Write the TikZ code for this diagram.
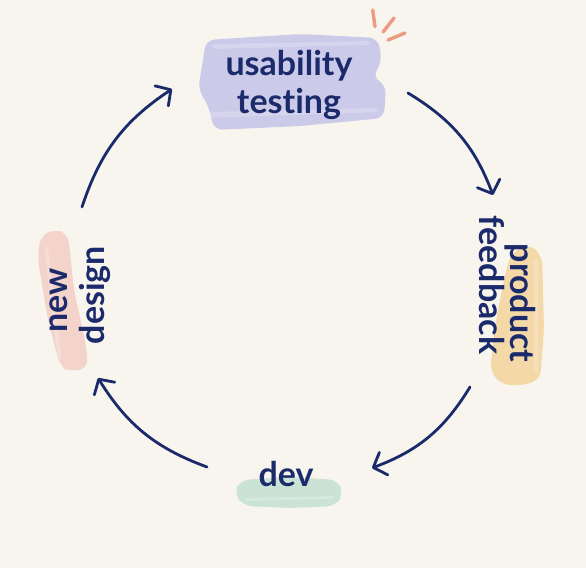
\documentclass[tikz,border=0pt]{standalone}
\usepackage{fontspec}
\setmainfont{Lato}[Ligatures={NoCommon}]
\usetikzlibrary{arrows.meta}
\definecolor{bg}{HTML}{F8F4EE}
\definecolor{ink}{HTML}{1B2A6B}
\definecolor{lav}{HTML}{CBCAE9}
\definecolor{ora}{HTML}{F4D8A8}
\definecolor{pnk}{HTML}{F3D3CA}
\definecolor{grn}{HTML}{CAE3D5}
\definecolor{tick}{HTML}{EE9A82}
\begin{document}
\begin{tikzpicture}[x=1pt,y=-1pt,
  lbl/.style={text=ink, inner sep=0pt, font=\fontsize{34}{38}\selectfont\bfseries},
  brush/.style={rounded corners=9pt},
  streak/.style={fill=white, opacity=0.22, rounded corners=3pt},
  cyc/.style={draw=ink, line width=2.8pt, line cap=round,
    -{Straight Barb[length=11pt,width=24pt,line cap=round,line join=round]}, bend left=19},
  spark/.style={draw=tick, line width=3.4pt, line cap=round}]
\fill[bg] (0,0) rectangle (586,568);
\useasboundingbox (0,0) rectangle (586,568);
% brush strokes
\fill[lav, brush] (206,40) -- (300,34) -- (378,38) -- (382,62) -- (372,78) -- (386,84) -- (384,118) -- (300,126) -- (214,130) -- (208,104) -- (198,90) -- (202,66) -- cycle;
\fill[streak] (212,44) -- (370,41) -- (370,45) -- (212,49) -- cycle;
\fill[streak] (206,112) -- (378,108) -- (378,112) -- (206,118) -- cycle;
\fill[ora, brush] (512,252) -- (530,244) -- (542,256) -- (544,330) -- (540,380) -- (520,386) -- (500,384) -- (490,370) -- (496,320) -- (506,270) -- cycle;
\fill[streak] (534,258) -- (538,258) -- (538,372) -- (534,372) -- cycle;
\fill[pnk, brush] (40,236) -- (55,229) -- (68,234) -- (74,290) -- (86,345) -- (88,368) -- (70,372) -- (60,366) -- (48,320) -- (38,260) -- cycle;
\fill[streak] (44,246) -- (48,246) -- (62,360) -- (58,360) -- cycle;
\fill[grn, brush] (240,480) -- (290,477) -- (338,480) -- (343,494) -- (336,506) -- (290,508) -- (244,506) -- (234,494) -- cycle;
\fill[streak] (244,498) -- (334,496) -- (334,499) -- (244,501) -- cycle;
% sparkle
\draw[spark] (372.7,10) -- (375,26.7);
\draw[spark] (394,18) -- (383,32);
\draw[spark] (405,33) -- (388,40);
% labels
\node[lbl, align=center] (ut) at (289,85) {usability\\testing};
\node[lbl, rotate=-90] (pr) at (520,303) {product};
\node[lbl, rotate=-90] (fb) at (492,285) {feedback};
\node[lbl] (dev) at (286,474) {dev};
\node[lbl, rotate=90] (nw) at (59,300) {new};
\node[lbl, rotate=90] (ds) at (95,295) {design};
% arrow ends
\coordinate (a1) at (408,93);  \coordinate (b1) at (493,195);
\coordinate (a2) at (470,387); \coordinate (b2) at (372,468);
\coordinate (a3) at (207,467); \coordinate (b3) at (98,378);
\coordinate (a4) at (82,207);  \coordinate (b4) at (172,89);
\draw[cyc] (a1) to (b1);
\draw[cyc] (a2) to (b2);
\draw[cyc] (a3) to (b3);
\draw[cyc] (a4) to (b4);
\end{tikzpicture}
\end{document}
